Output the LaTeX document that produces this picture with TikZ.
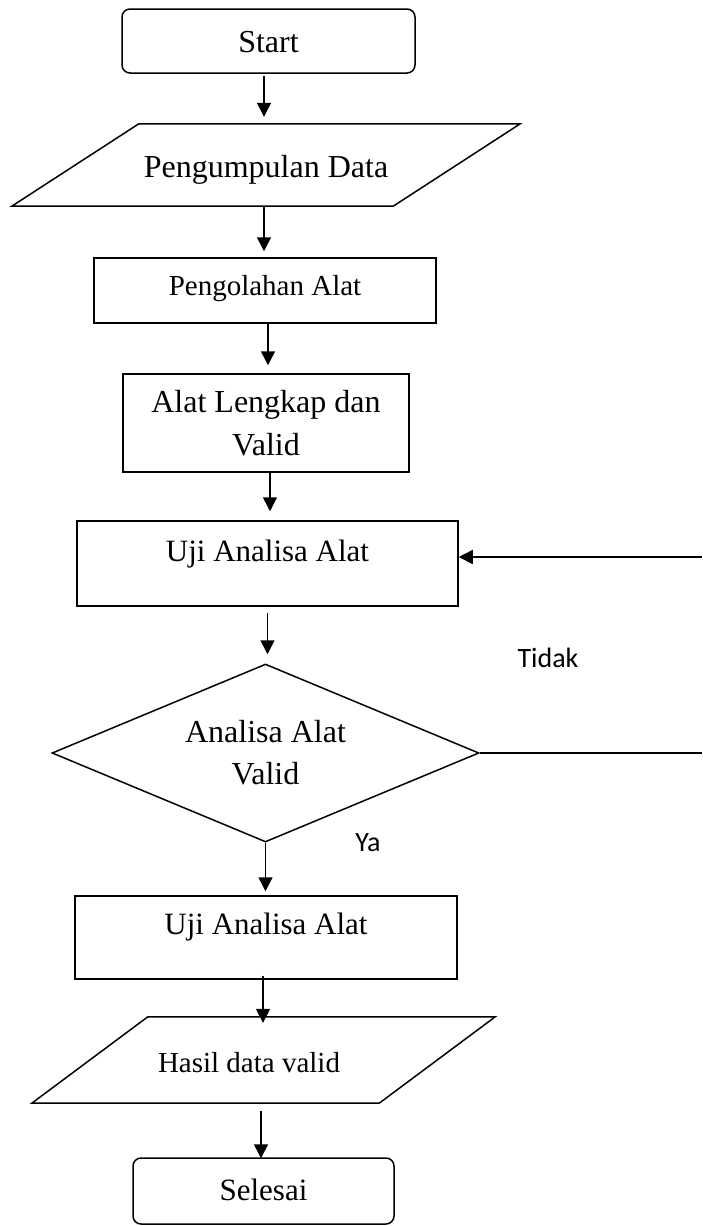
\documentclass[tikz,border=0pt]{standalone}
\usepackage{fontspec}
\setmainfont{Liberation Serif}
\newfontfamily\labelfont{Carlito}
\usetikzlibrary{shapes.geometric,arrows.meta}

\begin{document}
\begin{tikzpicture}[x=1pt,y=-1pt,
        kotak/.style={draw,line width=1.5pt,inner xsep=0pt,inner ysep=0pt,anchor=base,font=\fontsize{31}{40}\selectfont},
        jajar/.style={inner xsep=0pt,inner ysep=0pt,anchor=base},
        arr/.style={-{Triangle[length=14pt,width=14pt]},line width=1.5pt},
        ket/.style={font=\labelfont\fontsize{28}{34}\selectfont}]
        \useasboundingbox (0,0) rectangle (702,1226);
        \node[kotak,rounded corners=8pt,minimum width=293pt,text height=43pt,text depth=21pt,font=\fontsize{32}{40}\selectfont] (start) at (268.5,52) {Start};
        \node[jajar,minimum width=381pt,text height=53pt,text depth=29pt,font=\fontsize{32}{40}\selectfont] (data) at (266,177) {Pengumpulan Data};
        \draw[line width=1.5pt] ([xshift=63.5pt]data.north west) -- ([xshift=63.5pt]data.north east) -- ([xshift=-63.5pt]data.south east) -- ([xshift=-63.5pt]data.south west) -- cycle;
        \node[kotak,minimum width=342pt,text height=37pt,text depth=28pt,font=\fontsize{29}{36}\selectfont] (olah) at (265,295) {Pengolahan Alat};
        \node[kotak,anchor=center,minimum width=286pt,minimum height=98pt,align=center,font=\fontsize{32}{43}\selectfont] (lengkap) at (266,423) {Alat Lengkap dan\\Valid};
        \node[kotak,minimum width=381pt,text height=40pt,text depth=45pt] (uji1) at (267.5,561) {Uji Analisa Alat};
        \node[draw,diamond,aspect=2.4,line width=1.5pt,inner sep=0pt,minimum width=427pt,minimum height=178pt,align=center,font=\fontsize{32}{42}\selectfont] (valid) at (265.5,753) {Analisa Alat\\Valid};
        \node[kotak,minimum width=382pt,text height=38pt,text depth=45pt] (uji2) at (266,934) {Uji Analisa Alat};
        \node[jajar,minimum width=347pt,text height=55pt,text depth=31pt,font=\fontsize{29}{36}\selectfont] (hasil) at (263.5,1072) {Hasil data valid\hspace*{29pt}};
        \draw[line width=1.5pt] ([xshift=58pt]hasil.north west) -- ([xshift=58pt]hasil.north east) -- ([xshift=-58pt]hasil.south east) -- ([xshift=-58pt]hasil.south west) -- cycle;
        \node[kotak,rounded corners=8pt,minimum width=261pt,text height=42pt,text depth=24pt] (selesai) at (263.5,1200) {Selesai};
        \node[ket] (tidak) at (548,658) {Tidak};
        \node[ket] (ya) at (368,843) {Ya};
        \coordinate (kanan) at (702,557);
        \coordinate (tepi) at (702,753);
        \draw[arr,shorten <=2pt,shorten >=7pt] ([xshift=-4.5pt]start.south) -- ([xshift=-4.5pt]start.south |- data.north);
        \draw[arr,shorten >=6pt] ([xshift=-2pt]data.south) -- ([xshift=-2pt]data.south |- olah.north);
        \draw[arr,shorten >=8pt] ([xshift=3pt]olah.south) -- ([xshift=3pt]olah.south |- lengkap.north);
        \draw[arr,shorten >=9pt] ([xshift=4pt]lengkap.south) -- ([xshift=4pt]lengkap.south |- uji1.north);
        \draw[arr,shorten <=6pt,shorten >=9pt] (uji1.south) -- (uji1.south |- valid.north);
        \draw[arr,shorten >=4pt] (valid.south) -- (valid.south |- uji2.north);
        \draw[arr,shorten <=-4pt,shorten >=-6pt] ([xshift=-3pt]uji2.south) -- ([xshift=-3pt]uji2.south |- hasil.north);
        \draw[arr,shorten <=8pt,shorten >=-1pt] ([xshift=-2.5pt]hasil.south) -- ([xshift=-2.5pt]hasil.south |- selesai.north);
        \draw[line width=1.5pt] (valid.east) -- (valid.east -| tepi);
        \draw[arr] (kanan) -- (kanan -| uji1.east);
    \end{tikzpicture}
\end{document}
